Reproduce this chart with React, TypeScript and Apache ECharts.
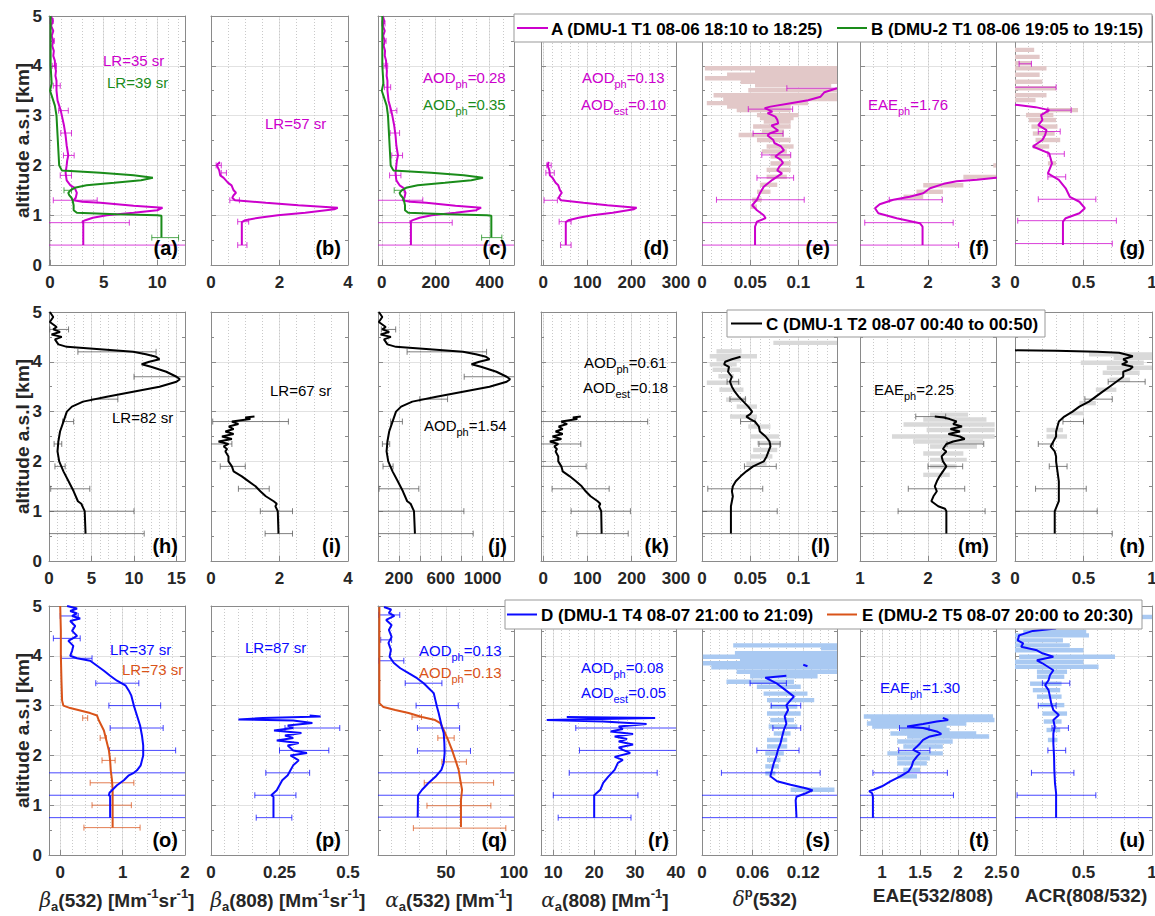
import React, { useEffect, useRef } from 'react';
import * as echarts from 'echarts';

const MAG = '#cc00cc';
const GRN = '#1a8c1a';
const BLK = '#000000';
const BLU = '#0a0aff';
const ORG = '#d95319';
const PINK = '#e2c8c8';
const GRAY = '#d9d9d9';
const LBLU = '#a9c9f2';
const FONT = '"Liberation Sans", Arial, Helvetica, sans-serif';
const TXT = '#262626';
const FRAME = '#8a8a8a';

// ---------- Row 1: A (magenta) / B (green) ----------
const aA = [[0.1,5.0],[0.25,4.9],[0.1,4.8],[0.3,4.7],[0.15,4.6],[0.3,4.5],[0.2,4.4],[0.35,4.3],[0.3,4.2],[0.45,4.1],[0.45,4.0],[0.55,3.9],[0.5,3.8],[0.6,3.7],[0.6,3.5],[0.7,3.3],[1.0,3.1],[1.1,3.0],[1.3,2.8],[1.45,2.6],[1.55,2.4],[1.7,2.2],[1.6,2.1],[1.55,2.0],[1.45,1.85],[1.55,1.7],[1.9,1.6],[2.3,1.55],[2.5,1.45],[2.4,1.35],[2.2,1.3],[3.0,1.27],[4.7,1.25],[7.8,1.19],[10.5,1.15],[10.0,1.1],[7.8,1.05],[5.3,1.0],[4.0,0.95],[3.3,0.9],[3.0,0.87],[3.1,0.85],[3.1,0.4]];
const aB = [[0.05,5.0],[0.05,4.5],[0.05,4.0],[0.15,3.65],[0.0,3.5],[0.15,3.4],[0.45,3.2],[0.6,3.0],[0.7,2.6],[0.8,2.2],[0.85,2.0],[1.1,1.9],[4.7,1.85],[7.8,1.8],[9.6,1.75],[8.5,1.7],[6.0,1.65],[3.4,1.6],[2.3,1.55],[1.9,1.5],[1.7,1.45],[1.8,1.4],[2.0,1.35],[2.1,1.3],[2.2,1.2],[2.2,1.1],[2.5,1.05],[6.2,1.02],[10.0,1.0],[10.4,0.99],[10.4,0.55]];
const aAerr = [[0.0,0.3,4.9],[0.05,0.4,4.5],[0.2,0.6,4.0],[0.3,0.95,3.6],[0.8,1.7,3.1],[1.0,2.0,2.65],[1.25,2.25,2.2],[0.95,2.0,1.8],[0.3,4.4,1.3],[-1,7.4,0.85],[-1,14,0.4]];
const aBerr = [[1.3,2.0,1.5],[9.5,12.0,0.55]];

const bA = [[0.22,2.07],[0.25,2.05],[0.2,2.03],[0.17,2.0],[0.24,1.9],[0.27,1.8],[0.37,1.75],[0.5,1.65],[0.6,1.6],[0.66,1.5],[0.73,1.45],[0.66,1.4],[0.62,1.35],[0.7,1.3],[1.6,1.25],[2.55,1.2],[3.7,1.15],[3.6,1.12],[2.75,1.05],[1.95,1.0],[1.4,0.95],[1.0,0.9],[0.9,0.86],[0.9,0.4]];
const bAerr = [[0.15,0.3,2.0],[0.3,0.45,1.85],[0.55,0.83,1.3],[0.78,1.1,0.87],[0.78,1.05,0.4]];

const cA = [[4,5.0],[9,4.9],[4,4.8],[11,4.7],[5,4.6],[11,4.5],[7,4.4],[12,4.3],[11,4.2],[16,4.1],[16,4.0],[19,3.9],[18,3.8],[21,3.7],[21,3.5],[25,3.3],[35,3.1],[39,3.0],[46,2.8],[51,2.6],[54,2.4],[60,2.2],[56,2.1],[54,2.0],[51,1.85],[54,1.7],[66,1.6],[80,1.55],[88,1.45],[84,1.35],[77,1.3],[105,1.27],[165,1.25],[273,1.19],[368,1.15],[350,1.1],[273,1.05],[185,1.0],[140,0.95],[115,0.9],[105,0.87],[108,0.85],[108,0.4]];
const cB = [[2,5.0],[2,4.5],[2,4.0],[6,3.65],[0,3.5],[6,3.4],[18,3.2],[23,3.0],[27,2.6],[31,2.2],[33,2.0],[43,1.9],[183,1.85],[304,1.8],[375,1.75],[332,1.7],[234,1.65],[133,1.6],[90,1.55],[74,1.5],[66,1.45],[70,1.4],[78,1.35],[82,1.3],[86,1.2],[86,1.1],[98,1.05],[242,1.02],[390,1.0],[406,0.99],[406,0.55]];
const cAerr = [[0,12,4.85],[2,16,4.5],[8,22,4.0],[10,33,3.57],[31,56,3.1],[31,66,2.65],[37,77,2.2],[29,71,1.8],[-20,152,1.3],[-20,261,0.85],[-20,600,0.4]];
const cBerr = [[46,83,1.5],[370,445,0.55]];

const dA = [[12.5,2.07],[10,2.0],[14,1.9],[15,1.8],[21,1.75],[28,1.65],[34,1.6],[38,1.5],[42,1.45],[38,1.4],[35,1.35],[40,1.3],[91,1.25],[145,1.2],[211,1.15],[205,1.12],[157,1.05],[111,1.0],[80,0.95],[57,0.9],[51,0.86],[51,0.4]];
const dAerr = [[8,18,2.0],[6,25,1.85],[2,32,1.3],[36,63,0.87],[39,63,0.4]];

const eA = [[0.14,3.55],[0.127,3.47],[0.123,3.38],[0.11,3.31],[0.092,3.25],[0.071,3.18],[0.065,3.15],[0.073,3.08],[0.068,3.05],[0.076,2.98],[0.078,2.92],[0.079,2.84],[0.072,2.8],[0.076,2.74],[0.079,2.7],[0.07,2.64],[0.068,2.6],[0.074,2.51],[0.075,2.45],[0.082,2.38],[0.085,2.3],[0.08,2.24],[0.076,2.18],[0.082,2.11],[0.084,2.05],[0.08,1.97],[0.078,1.9],[0.083,1.84],[0.073,1.71],[0.064,1.57],[0.06,1.44],[0.057,1.31],[0.052,1.2],[0.057,1.1],[0.064,1.0],[0.066,0.94],[0.057,0.87],[0.055,0.77],[0.055,0.4]];
const eShade = [[0.003,0.141,3.95],[0.055,0.141,3.88],[0.026,0.141,3.82],[0.003,0.141,3.75],[0.04,0.141,3.68],[0.055,0.134,3.61],[0.048,0.141,3.51],[0.012,0.141,3.41],[0.022,0.141,3.33],[0.005,0.11,3.25],[0.026,0.092,3.18],[0.036,0.092,3.11],[0.057,0.1,3.01],[0.06,0.095,2.95],[0.064,0.092,2.88],[0.053,0.092,2.78],[0.062,0.085,2.68],[0.038,0.085,2.61],[0.057,0.092,2.51],[0.067,0.095,2.38],[0.062,0.088,2.28],[0.071,0.092,2.18],[0.071,0.092,2.04],[0.067,0.092,1.91],[0.067,0.088,1.77],[0.06,0.078,1.61],[0.057,0.071,1.47],[0.052,0.062,1.31],[0.05,0.057,1.17]];
const eAerr = [[0.088,0.15,3.55],[0.048,0.094,3.13],[0.053,0.084,2.64],[0.062,0.092,2.21],[0.057,0.095,1.75],[0.015,0.106,1.31],[-0.01,0.2,0.85],[-0.01,0.2,0.4]];

const fA = [[3.1,1.76],[3.0,1.75],[2.72,1.71],[2.42,1.68],[2.23,1.63],[2.03,1.54],[1.93,1.44],[1.73,1.37],[1.49,1.31],[1.29,1.22],[1.22,1.14],[1.27,1.04],[1.54,0.94],[1.88,0.84],[1.92,0.77],[1.92,0.4]];
const fShade = [[2.96,3.0,2.0],[2.52,3.0,1.77],[1.93,2.52,1.6],[1.83,2.22,1.47],[1.64,1.93,1.37]];
const fAerr = [[1.43,2.21,1.31],[1.07,2.37,0.85],[0.9,2.45,0.4]];

const gA = [[0,3.22],[0.15,3.17],[0.25,3.11],[0.19,3.01],[0.2,2.91],[0.17,2.81],[0.23,2.71],[0.22,2.61],[0.2,2.51],[0.13,2.38],[0.25,2.24],[0.27,2.04],[0.24,1.84],[0.32,1.71],[0.37,1.54],[0.4,1.37],[0.47,1.27],[0.51,1.14],[0.47,1.04],[0.37,0.94],[0.35,0.87],[0.35,0.4]];
const gShade = [[0,0.14,4.32],[0,0.18,4.18],[0,0.12,4.05],[0,0.23,3.95],[0,0.18,3.82],[0,0.2,3.68],[0,0.3,3.55],[0,0.23,3.41],[0,0.15,3.31],[0.23,0.46,3.11],[0.08,0.28,3.01],[0.1,0.3,2.91],[0.12,0.31,2.78],[0.13,0.29,2.64],[0.15,0.33,2.51],[0.13,0.25,2.38],[0.24,0.3,2.04]];
const gAerr = [[0.03,0.12,4.04],[-0.01,0.3,3.57],[0.24,0.41,3.11],[0.17,0.33,2.68],[0.24,0.36,2.23],[0.24,0.37,1.77],[0.17,0.59,1.32],[0.02,0.74,0.89],[-0.01,0.71,0.43]];

// ---------- Row 2: C (black) ----------
const hC = [[0.1,5.0],[0.5,4.9],[0.1,4.8],[0.9,4.7],[0.5,4.65],[1.3,4.6],[0.3,4.55],[1.5,4.5],[0.7,4.45],[0.9,4.4],[1.1,4.35],[2.1,4.3],[6,4.25],[9.9,4.2],[11.4,4.15],[12.6,4.1],[13,4.05],[11.8,4.0],[10.9,3.95],[12,3.9],[13.8,3.8],[15,3.7],[15.4,3.65],[15,3.6],[13,3.5],[9.9,3.4],[6.8,3.3],[4.0,3.2],[2.7,3.1],[2.1,3.0],[1.7,2.8],[1.3,2.6],[1.1,2.4],[1.0,2.2],[1.2,2.0],[1.7,1.8],[2.3,1.6],[2.9,1.4],[3.4,1.2],[3.8,1.15],[4.2,1.0],[4.3,0.55]];
const hErr = [[0.1,2.3,4.65],[3.4,12.6,4.2],[10,17,3.7],[5,8.1,3.25],[1.6,2.9,2.8],[0.6,1.5,2.35],[0.7,1.9,1.9],[0.2,4.8,1.45],[-0.5,10,1.0],[-0.5,11.2,0.55]];

const iC = [[1.27,2.9],[1.0,2.88],[1.15,2.85],[0.61,2.8],[0.8,2.75],[0.52,2.7],[0.66,2.65],[0.42,2.6],[0.66,2.55],[0.32,2.5],[0.61,2.45],[0.22,2.4],[0.51,2.35],[0.37,2.3],[0.47,2.25],[0.42,2.2],[0.51,2.1],[0.51,2.0],[0.61,1.9],[0.66,1.8],[0.9,1.7],[1.1,1.6],[1.3,1.5],[1.44,1.4],[1.6,1.3],[1.83,1.2],[1.92,1.15],[1.88,1.1],[1.95,1.0],[1.97,0.55]];
const iErr = [[0.05,2.26,2.8],[-0.1,0.61,2.35],[0.27,1.0,1.9],[0.8,1.7,1.45],[1.44,2.38,1.0],[1.58,2.38,0.55]];

const jC = [[8,5.0],[41,4.9],[8,4.8],[74,4.7],[41,4.65],[107,4.6],[25,4.55],[123,4.5],[57,4.45],[74,4.4],[90,4.35],[172,4.3],[492,4.25],[812,4.2],[935,4.15],[1033,4.1],[1066,4.05],[968,4.0],[894,3.95],[984,3.9],[1132,3.8],[1230,3.7],[1263,3.65],[1230,3.6],[1066,3.5],[812,3.4],[558,3.3],[328,3.2],[221,3.1],[172,3.0],[139,2.8],[107,2.6],[90,2.4],[82,2.2],[98,2.0],[139,1.8],[189,1.6],[238,1.4],[279,1.2],[312,1.15],[344,1.0],[353,0.55]];
const jErr = [[32,169,4.65],[278,1038,4.2],[824,1400,3.7],[400,665,3.25],[121,233,2.8],[42,112,2.35],[48,144,1.9],[10,390,1.45],[-10,821,1.0],[-10,910,0.55]];

const kC = [[85,2.9],[67,2.88],[77,2.85],[41,2.8],[54,2.75],[35,2.7],[44,2.65],[28,2.6],[44,2.55],[21,2.5],[41,2.45],[15,2.4],[34,2.35],[25,2.3],[31,2.25],[28,2.2],[34,2.1],[34,2.0],[41,1.9],[44,1.8],[60,1.7],[74,1.6],[87,1.5],[96,1.4],[107,1.3],[123,1.2],[129,1.15],[126,1.1],[131,1.0],[132,0.55]];
const kErr = [[-10,236,2.8],[-10,85,2.35],[-10,97,1.9],[20,149,1.45],[63,197,1.0],[76,192,0.55]];

const lC = [[0.04,4.1],[0.031,4.05],[0.024,4.0],[0.023,3.95],[0.028,3.9],[0.027,3.8],[0.031,3.7],[0.029,3.6],[0.031,3.5],[0.034,3.4],[0.038,3.3],[0.043,3.2],[0.048,3.1],[0.052,3.0],[0.05,2.95],[0.046,2.9],[0.05,2.85],[0.055,2.8],[0.059,2.7],[0.06,2.6],[0.066,2.5],[0.07,2.4],[0.071,2.3],[0.069,2.2],[0.067,2.1],[0.064,2.0],[0.053,1.9],[0.046,1.8],[0.04,1.7],[0.035,1.6],[0.032,1.5],[0.031,1.4],[0.032,1.3],[0.031,1.2],[0.03,1.1],[0.03,1.0],[0.03,0.55]];
const lShade = [[0.074,0.141,4.38],[0.015,0.041,4.21],[0.008,0.057,4.11],[0.015,0.04,4.05],[0.008,0.036,3.95],[0.011,0.04,3.84],[0.017,0.033,3.71],[0.005,0.04,3.58],[0.018,0.043,3.44],[0.025,0.046,3.24],[0.036,0.057,3.1],[0.029,0.057,2.9],[0.048,0.071,2.7],[0.05,0.08,2.5],[0.057,0.082,2.37],[0.053,0.078,2.23],[0.05,0.073,2.1],[0.046,0.067,1.96]];
const lErr = [[0.026,0.038,3.6],[0.029,0.045,3.25],[0.04,0.055,2.8],[0.059,0.081,2.35],[0.044,0.077,1.9],[0.006,0.063,1.45],[-0.01,0.078,1.0],[-0.01,0.2,0.55]];

const mC = [[2.1,2.9],[2.23,2.88],[2.32,2.85],[2.42,2.8],[2.37,2.75],[2.5,2.7],[2.33,2.65],[2.47,2.6],[2.3,2.55],[2.47,2.5],[2.54,2.45],[2.37,2.4],[2.27,2.35],[2.22,2.25],[2.27,2.2],[2.2,2.1],[2.22,2.0],[2.27,1.9],[2.22,1.8],[2.17,1.7],[2.13,1.6],[2.1,1.5],[2.13,1.4],[2.08,1.3],[2.05,1.2],[2.15,1.1],[2.25,1.05],[2.27,1.0],[2.27,0.55]];
const mShade = [[2.03,2.59,2.94],[1.93,2.86,2.84],[1.64,2.98,2.74],[1.98,2.98,2.63],[1.47,2.98,2.5],[1.78,2.81,2.4],[2.03,2.72,2.3],[1.93,2.52,2.16],[2.03,2.57,2.03],[2.03,2.42,1.9],[1.93,2.32,1.73]];
const mErr = [[1.82,2.26,2.9],[2.28,2.82,2.35],[2.0,2.51,1.9],[1.71,2.54,1.45],[1.56,2.84,1.0],[0.9,3.1,0.55]];

const nC = [[0,4.23],[0.3,4.22],[0.6,4.2],[0.76,4.18],[0.86,4.11],[0.79,4.05],[0.82,4.0],[0.78,3.95],[0.86,3.9],[0.84,3.85],[0.79,3.8],[0.79,3.7],[0.74,3.6],[0.69,3.5],[0.64,3.4],[0.59,3.3],[0.54,3.2],[0.47,3.1],[0.42,3.0],[0.36,2.9],[0.32,2.8],[0.31,2.7],[0.3,2.6],[0.3,2.5],[0.28,2.4],[0.26,2.3],[0.29,2.2],[0.3,2.1],[0.3,2.0],[0.31,1.8],[0.32,1.6],[0.32,1.4],[0.32,1.2],[0.29,1.0],[0.29,0.55]];
const nShade = [[0.54,1.0,4.15],[0.72,1.0,4.08],[0.48,0.94,3.98],[0.67,1.0,3.88],[0.64,0.91,3.78],[0.69,0.84,3.64],[0.59,0.74,3.44],[0.47,0.59,3.17],[0.4,0.5,2.97],[0.23,0.35,2.63],[0.23,0.38,2.5]];
const nErr = [[0.68,0.95,3.6],[0.51,0.71,3.25],[0.35,0.5,2.8],[0.17,0.28,2.35],[0.25,0.38,1.9],[0.15,0.52,1.45],[-0.01,0.6,1.0],[-0.01,0.71,0.55]];

// ---------- Row 3: D (blue) / E (orange) ----------
const oD = [[0.11,5.0],[0.27,4.95],[0.16,4.9],[0.27,4.85],[0.19,4.8],[0.32,4.75],[0.16,4.7],[0.24,4.6],[0.19,4.5],[0.27,4.4],[0.13,4.3],[0.21,4.2],[0.19,4.1],[0.16,4.0],[0.27,3.95],[0.48,3.9],[0.59,3.8],[0.7,3.7],[0.8,3.6],[0.91,3.5],[1.05,3.4],[1.1,3.3],[1.14,3.2],[1.18,3.0],[1.23,2.8],[1.28,2.6],[1.31,2.4],[1.33,2.2],[1.33,2.0],[1.31,1.9],[1.29,1.8],[1.23,1.7],[1.18,1.65],[1.1,1.6],[1.02,1.5],[0.91,1.4],[0.83,1.3],[0.79,1.25],[0.78,1.2],[0.8,1.18],[0.8,0.75]];
const oE = [[0.0,5.0],[0.01,4.5],[0.01,4.0],[0.02,3.5],[0.03,3.1],[0.05,3.0],[0.16,2.95],[0.32,2.9],[0.48,2.85],[0.59,2.8],[0.62,2.7],[0.64,2.65],[0.7,2.5],[0.74,2.3],[0.78,2.1],[0.8,1.9],[0.81,1.7],[0.83,1.5],[0.84,1.3],[0.84,0.55]];
const oDerr = [[0,0.29,4.8],[-0.11,0.32,4.35],[0.02,0.51,3.95],[0.57,1.26,3.45],[0.78,1.61,3.0],[0.8,1.65,2.55],[0.79,1.85,2.1],[-0.3,2.2,1.65],[-0.3,2.2,1.2],[-0.3,2.2,0.75]];
const oEerr = [[0.36,0.44,2.75],[0.64,0.74,2.35],[0.67,0.88,1.9],[0.48,1.18,1.45],[0.51,1.14,1.0],[0.38,1.28,0.55]];

const pD = [[0.36,2.8],[0.4,2.78],[0.19,2.75],[0.1,2.72],[0.3,2.7],[0.37,2.65],[0.28,2.6],[0.3,2.55],[0.23,2.5],[0.33,2.45],[0.27,2.4],[0.3,2.35],[0.24,2.3],[0.32,2.25],[0.28,2.2],[0.3,2.1],[0.35,2.05],[0.29,2.0],[0.32,1.9],[0.3,1.8],[0.29,1.7],[0.28,1.6],[0.26,1.5],[0.25,1.4],[0.24,1.3],[0.22,1.2],[0.228,1.17],[0.228,0.75]];
const pErr = [[0.27,0.47,2.55],[0.25,0.43,2.1],[0.2,0.36,1.65],[0.16,0.31,1.2],[0.165,0.295,0.75]];

const qD = [[4.4,4.98],[9.6,4.93],[8,4.86],[12,4.8],[6,4.72],[10,4.62],[8,4.52],[10,4.38],[7.7,4.26],[9.5,4.12],[8.5,3.98],[11.5,3.86],[16.4,3.75],[22.5,3.65],[28.7,3.55],[33.6,3.45],[37.3,3.35],[41,3.25],[42.2,3.11],[43.4,2.97],[44.6,2.85],[45.8,2.71],[47,2.57],[48.3,2.45],[48.8,2.25],[49,2.05],[48.3,1.85],[46.6,1.71],[42.2,1.57],[37.3,1.45],[32.4,1.31],[29.4,1.2],[29.2,0.76]];
const qE = [[1,4.98],[1,4.0],[1,3.05],[4,2.97],[12.7,2.91],[22.5,2.85],[32.3,2.77],[42,2.71],[45.8,2.65],[48.3,2.51],[51.5,2.31],[54.4,2.11],[56.9,1.91],[59.3,1.71],[60.5,1.51],[61.8,1.31],[61,1.1],[61,0.56]];
const qDerr = [[0.7,16,4.82],[2,10,4.32],[0.7,19,3.9],[20,47,3.45],[28,59,3.0],[29,60,2.55],[29,68,2.09],[-5,110,1.65],[-5,110,1.2],[-5,110,0.76]];
const qEerr = [[25,32,2.77],[44,56,2.35],[47,65,1.87],[34,85,1.45],[36,83,0.99],[26,94,0.54]];

const rD = [[13.3,2.77],[34.9,2.75],[8.4,2.71],[22.2,2.68],[32.8,2.63],[26,2.58],[27,2.53],[24,2.48],[29.5,2.43],[25,2.38],[28,2.33],[26,2.28],[29.5,2.22],[26,2.16],[27,2.11],[28.8,2.05],[25,1.97],[27,1.91],[25.8,1.85],[25,1.71],[23.4,1.57],[22.2,1.45],[21.5,1.31],[20,1.2],[20,0.75]];
const rErr = [[15.5,45,2.55],[16.4,45,2.1],[13.9,35.4,1.65],[10,30.7,1.2],[11.2,29,0.75]];

const sD = [[0.1,3.6],[0.075,3.56],[0.081,3.51],[0.089,3.44],[0.099,3.31],[0.109,3.18],[0.105,3.11],[0.1,3.01],[0.102,2.91],[0.098,2.78],[0.1,2.64],[0.097,2.51],[0.095,2.38],[0.093,2.24],[0.09,2.11],[0.088,1.98],[0.085,1.84],[0.083,1.71],[0.081,1.58],[0.089,1.48],[0.105,1.41],[0.123,1.34],[0.131,1.3],[0.123,1.24],[0.112,1.17],[0.111,1.1],[0.112,0.75]];
const sD2 = [[0.12,3.82],[0.125,3.79]];
const sShade = [[0.037,0.16,4.21],[0.141,0.16,4.15],[0.039,0.16,4.05],[0.001,0.16,3.98],[0.045,0.16,3.91],[0.001,0.16,3.85],[0.011,0.16,3.77],[0.041,0.16,3.68],[0.057,0.137,3.59],[0.029,0.109,3.48],[0.065,0.117,3.38],[0.073,0.125,3.24],[0.077,0.133,3.11],[0.081,0.113,2.98],[0.077,0.117,2.84],[0.081,0.109,2.71],[0.079,0.113,2.58],[0.085,0.105,2.44],[0.077,0.101,2.31],[0.077,0.101,2.18],[0.075,0.097,2.04],[0.077,0.093,1.91],[0.075,0.091,1.78],[0.075,0.087,1.64],[0.105,0.157,1.31]];
const sErr = [[0.057,0.1,3.45],[0.082,0.117,3.0],[0.084,0.117,2.55],[0.065,0.115,2.1],[0.023,0.14,1.65],[-0.01,0.2,1.2],[-0.01,0.2,0.75]];

const tD = [[1.8,2.75],[1.87,2.71],[1.72,2.68],[1.54,2.63],[1.33,2.58],[1.54,2.55],[1.72,2.48],[1.78,2.43],[1.63,2.38],[1.54,2.31],[1.5,2.24],[1.46,2.18],[1.41,2.11],[1.5,2.04],[1.46,1.98],[1.41,1.88],[1.39,1.78],[1.35,1.68],[1.24,1.58],[1.11,1.48],[1.0,1.38],[0.89,1.31],[0.83,1.28],[0.87,1.24],[0.88,1.17],[0.88,0.75]];
const tShade = [[0.76,2.46,2.78],[0.85,2.48,2.71],[0.8,2.11,2.64],[0.87,1.85,2.58],[1.24,1.89,2.51],[1.11,2.24,2.44],[1.33,2.41,2.38],[1.2,1.93,2.28],[1.28,1.8,2.18],[1.07,1.8,2.04],[1.2,1.63,1.94],[1.2,1.59,1.84],[1.28,1.5,1.71],[1.2,1.46,1.58]];
const tErr = [[1.23,1.62,2.55],[1.22,1.63,2.1],[0.88,1.86,1.65],[0.6,1.94,1.2],[0.6,2.6,0.75]];

const uD = [[0.3,4.55],[0.13,4.5],[0.03,4.41],[0.02,4.31],[0.06,4.25],[0.045,4.18],[0.16,4.11],[0.2,4.05],[0.28,3.98],[0.16,3.91],[0.2,3.85],[0.24,3.78],[0.28,3.71],[0.255,3.61],[0.245,3.51],[0.22,3.41],[0.245,3.31],[0.255,3.18],[0.265,3.04],[0.28,2.91],[0.32,2.81],[0.28,2.71],[0.29,2.58],[0.28,2.44],[0.28,2.24],[0.285,1.98],[0.287,1.71],[0.292,1.44],[0.3,1.24],[0.3,0.75]];
const uShade = [[0.9,1.0,4.78],[0.06,0.52,4.48],[0,0.54,4.41],[0,0.35,4.31],[0,0.4,4.21],[0,0.5,4.11],[0.03,0.73,3.98],[0,0.5,3.88],[0,0.61,3.78],[0.16,0.38,3.68],[0.16,0.36,3.58],[0.11,0.34,3.44],[0.13,0.33,3.31],[0.16,0.34,3.18],[0.18,0.36,3.01],[0.2,0.38,2.84],[0.21,0.34,2.68],[0.23,0.33,2.51],[0.24,0.31,2.31]];
const uErr = [[0.2,0.4,3.45],[0.17,0.3,3.0],[0.27,0.39,2.55],[0.24,0.37,2.1],[0.12,0.43,1.65],[0.015,0.59,1.2],[-0.01,1.1,0.75]];

const NAME_A = 'A (DMU-1 T1 08-06 18:10 to 18:25)';
const NAME_B = 'B (DMU-2 T1 08-06 19:05 to 19:15)';
const NAME_C = 'C (DMU-1 T2 08-07 00:40 to 00:50)';
const NAME_D = 'D (DMU-1 T4 08-07 21:00 to 21:09)';
const NAME_E = 'E (DMU-2 T5 08-07 20:00 to 20:30)';

// ---------- layout ----------
const ROW_TOP = [16, 312, 606];
const ROW_H = 249;
const COL_LEFT = [49, 211, 378, 541, 702, 860, 1015];
const COL_W = [136, 137, 136, 135, 135, 136, 137];
const LETTER_Y = [248, 546, 840];

type Pn = { L: string; r: number; c: number; x: number[]; t: number[]; lb?: number[]; m: number;
  lines: any[]; errs: any[]; shades: any[] };

const PANELS: Pn[] = [
  { L: '(a)', r: 0, c: 0, x: [-0.1, 12.6], t: [0, 5, 10], m: 1, lines: [[aA, MAG, NAME_A], [aB, GRN, NAME_B]], errs: [[aAerr, MAG], [aBerr, GRN]], shades: [] },
  { L: '(b)', r: 0, c: 1, x: [0, 4], t: [0, 2, 4], m: 0.5, lines: [[bA, MAG, NAME_A]], errs: [[bAerr, MAG]], shades: [] },
  { L: '(c)', r: 0, c: 2, x: [-14, 490], t: [0, 200, 400], m: 50, lines: [[cA, MAG, NAME_A], [cB, GRN, NAME_B]], errs: [[cAerr, MAG], [cBerr, GRN]], shades: [] },
  { L: '(d)', r: 0, c: 3, x: [-5, 300], t: [0, 100, 200, 300], m: 20, lines: [[dA, MAG, NAME_A]], errs: [[dAerr, MAG]], shades: [] },
  { L: '(e)', r: 0, c: 4, x: [0, 0.14], t: [0, 0.05, 0.1], m: 0.01, lines: [[eA, MAG, NAME_A]], errs: [[eAerr, MAG]], shades: [[eShade, PINK]] },
  { L: '(f)', r: 0, c: 5, x: [1, 3], t: [1, 2, 3], m: 0.2, lines: [[fA, MAG, NAME_A]], errs: [[fAerr, MAG]], shades: [[fShade, PINK]] },
  { L: '(g)', r: 0, c: 6, x: [0, 1], t: [0, 0.5, 1], m: 0.1, lines: [[gA, MAG, NAME_A]], errs: [[gAerr, MAG]], shades: [[gShade, PINK]] },
  { L: '(h)', r: 1, c: 0, x: [0, 16], t: [0, 5, 10, 15], m: 1, lines: [[hC, BLK, NAME_C]], errs: [[hErr, '#555']], shades: [] },
  { L: '(i)', r: 1, c: 1, x: [0, 4], t: [0, 2, 4], m: 0.5, lines: [[iC, BLK, NAME_C]], errs: [[iErr, '#555']], shades: [] },
  { L: '(j)', r: 1, c: 2, x: [0, 1300], t: [200, 400, 600, 800, 1000, 1200], lb: [200, 600, 1000], m: 100, lines: [[jC, BLK, NAME_C]], errs: [[jErr, '#555']], shades: [] },
  { L: '(k)', r: 1, c: 3, x: [-5, 300], t: [0, 100, 200, 300], m: 20, lines: [[kC, BLK, NAME_C]], errs: [[kErr, '#555']], shades: [] },
  { L: '(l)', r: 1, c: 4, x: [0, 0.14], t: [0, 0.05, 0.1], m: 0.01, lines: [[lC, BLK, NAME_C]], errs: [[lErr, '#555']], shades: [[lShade, GRAY]] },
  { L: '(m)', r: 1, c: 5, x: [1, 3], t: [1, 2, 3], m: 0.2, lines: [[mC, BLK, NAME_C]], errs: [[mErr, '#555']], shades: [[mShade, GRAY]] },
  { L: '(n)', r: 1, c: 6, x: [0, 1], t: [0, 0.5, 1], m: 0.1, lines: [[nC, BLK, NAME_C]], errs: [[nErr, '#555']], shades: [[nShade, GRAY]] },
  { L: '(o)', r: 2, c: 0, x: [-0.18, 2], t: [0, 1, 2], m: 0.2, lines: [[oE, ORG, NAME_E], [oD, BLU, NAME_D]], errs: [[oEerr, ORG], [oDerr, BLU]], shades: [] },
  { L: '(p)', r: 2, c: 1, x: [0, 0.5], t: [0, 0.25, 0.5], m: 0.05, lines: [[pD, BLU, NAME_D]], errs: [[pErr, BLU]], shades: [] },
  { L: '(q)', r: 2, c: 2, x: [0, 100], t: [0, 50, 100], lb: [50, 100], m: 10, lines: [[qE, ORG, NAME_E], [qD, BLU, NAME_D]], errs: [[qEerr, ORG], [qDerr, BLU]], shades: [] },
  { L: '(r)', r: 2, c: 3, x: [7, 40], t: [10, 20, 30, 40], m: 2, lines: [[rD, BLU, NAME_D]], errs: [[rErr, BLU]], shades: [] },
  { L: '(s)', r: 2, c: 4, x: [0, 0.16], t: [0, 0.06, 0.12], m: 0.01, lines: [[sD, BLU, NAME_D], [sD2, BLU, NAME_D]], errs: [[sErr, BLU]], shades: [[sShade, LBLU]] },
  { L: '(t)', r: 2, c: 5, x: [0.71, 2.5], t: [1, 1.5, 2, 2.5], m: 0.1, lines: [[tD, BLU, NAME_D]], errs: [[tErr, BLU]], shades: [[tShade, LBLU]] },
  { L: '(u)', r: 2, c: 6, x: [0, 1], t: [0, 0.5, 1], m: 0.1, lines: [[uD, BLU, NAME_D]], errs: [[uErr, BLU]], shades: [[uShade, LBLU]] },
];

const ANNOS: any[] = [
  [103, 60, '{n|LR=35 sr}', MAG], [107, 82, '{n|LR=39 sr}', GRN], [265, 123, '{n|LR=57 sr}', MAG],
  [423, 77, '{n|AOD}{s|ph}{n|=0.28}', MAG], [423, 104, '{n|AOD}{s|ph}{n|=0.35}', GRN],
  [582, 77, '{n|AOD}{s|ph}{n|=0.13}', MAG], [581, 104, '{n|AOD}{s|est}{n|=0.10}', MAG],
  [868, 104, '{n|EAE}{s|ph}{n|=1.76}', MAG],
  [112, 417, '{n|LR=82 sr}', BLK], [270, 390, '{n|LR=67 sr}', BLK], [424, 425, '{n|AOD}{s|ph}{n|=1.54}', BLK],
  [584, 362, '{n|AOD}{s|ph}{n|=0.61}', BLK], [583, 387, '{n|AOD}{s|est}{n|=0.18}', BLK],
  [874, 389, '{n|EAE}{s|ph}{n|=2.25}', BLK],
  [110, 649, '{n|LR=37 sr}', BLU], [122, 669, '{n|LR=73 sr}', ORG], [245, 647, '{n|LR=87 sr}', BLU],
  [419, 650, '{n|AOD}{s|ph}{n|=0.13}', BLU], [419, 672, '{n|AOD}{s|ph}{n|=0.13}', ORG],
  [581, 667, '{n|AOD}{s|ph}{n|=0.08}', BLU], [581, 692, '{n|AOD}{s|est}{n|=0.05}', BLU],
  [880, 687, '{n|EAE}{s|ph}{n|=1.30}', BLU],
];

const XNAMES: any[] = [
  [117, 900, '{g|β}{s|a}{n|(532) [Mm}{p|-1}{n|sr}{p|-1}{n|]}'],
  [288, 900, '{g|β}{s|a}{n|(808) [Mm}{p|-1}{n|sr}{p|-1}{n|]}'],
  [449, 900, '{g|α}{s|a}{n|(532) [Mm}{p|-1}{n|]}'],
  [605, 900, '{g|α}{s|a}{n|(808) [Mm}{p|-1}{n|]}'],
  [765, 899, '{g|δ}{p|p}{n|(532)}'],
  [933, 895, '{n|EAE(532/808)}'],
  [1086, 895, '{n|ACR(808/532)}'],
];

const LEGENDS: any[] = [
  { box: [514, 14, 638, 28], items: [[517, 548, MAG, 551, NAME_A], [837, 867, GRN, 871, NAME_B]] },
  { box: [727, 310, 318, 27], items: [[731, 762, BLK, 766, NAME_C]] },
  { box: [505, 600, 637, 29], items: [[507, 537, BLU, 541, NAME_D], [827, 857, ORG, 862, NAME_E]] },
];

function stepsIn(a: number, b: number, s: number) {
  const out: number[] = [];
  const k0 = Math.ceil(a / s - 1e-9);
  for (let k = k0; k * s <= b + 1e-9; k++) out.push(+(k * s).toFixed(6));
  return out;
}

const fmt = (v: number) => String(+Number(v).toFixed(6));

function errRender(color: string) {
  return (params: any, api: any) => {
    const cs = params.coordSys;
    const X0 = cs.x, X1 = cs.x + cs.width;
    const y = api.value(2);
    const a = api.coord([api.value(0), y]);
    const b = api.coord([api.value(1), y]);
    const x0 = Math.max(X0, Math.min(X1, a[0]));
    const x1 = Math.max(X0, Math.min(X1, b[0]));
    const yy = a[1];
    const st = { stroke: color, lineWidth: 1, opacity: 0.75 };
    const ch: any[] = [{ type: 'line', shape: { x1: x0, y1: yy, x2: x1, y2: yy }, style: st }];
    if (a[0] >= X0 && a[0] <= X1) ch.push({ type: 'line', shape: { x1: a[0], y1: yy - 3, x2: a[0], y2: yy + 3 }, style: st });
    if (b[0] >= X0 && b[0] <= X1) ch.push({ type: 'line', shape: { x1: b[0], y1: yy - 3, x2: b[0], y2: yy + 3 }, style: st });
    return { type: 'group', children: ch };
  };
}

function shadeRender(color: string) {
  return (params: any, api: any) => {
    const cs = params.coordSys;
    const X0 = cs.x, X1 = cs.x + cs.width;
    const y = api.value(2);
    const a = api.coord([api.value(0), y]);
    const b = api.coord([api.value(1), y]);
    const x0 = Math.max(X0, Math.min(X1, a[0]));
    const x1 = Math.max(X0, Math.min(X1, b[0]));
    return { type: 'rect', shape: { x: x0, y: a[1] - 2.2, width: Math.max(0, x1 - x0), height: 4.4 }, style: { fill: color } };
  };
}

function buildOption() {
  const grid: any[] = [], xAxis: any[] = [], yAxis: any[] = [], series: any[] = [], graphic: any[] = [];
  const tickLabel = { fontSize: 17, fontWeight: 'bold', fontFamily: FONT, color: TXT };
  PANELS.forEach((p, i) => {
    const left = COL_LEFT[p.c], top = ROW_TOP[p.r], width = COL_W[p.c];
    grid.push({ left, top, width, height: ROW_H, containLabel: false, outerBoundsMode: 'none' });
    const minorVals = stepsIn(p.x[0], p.x[1], p.m);
    xAxis.push({
      type: 'value', gridIndex: i, position: 'bottom', min: p.x[0], max: p.x[1],
      axisLine: { show: true, onZero: false, lineStyle: { color: FRAME, width: 1 } },
      axisTick: { show: true, inside: true, length: 5, customValues: p.t, lineStyle: { color: FRAME } },
      axisLabel: { show: true, customValues: p.lb || p.t, margin: 9, hideOverlap: false, showMinLabel: true, showMaxLabel: true, formatter: fmt, ...tickLabel },
      splitLine: { show: true, lineStyle: { color: '#e2e2e2', width: 1 } },
    });
    xAxis.push({
      type: 'value', gridIndex: i, position: 'top', min: p.x[0], max: p.x[1],
      axisLine: { show: true, onZero: false, lineStyle: { color: FRAME, width: 1 } },
      axisTick: { show: false, customValues: minorVals },
      axisLabel: { show: false, customValues: minorVals },
      splitLine: { show: true, lineStyle: { color: '#c9c9c9', width: 1, type: [1, 2] } },
    });
    yAxis.push({
      type: 'value', gridIndex: i, position: 'left', min: 0, max: 5, interval: 1,
      axisLine: { show: true, onZero: false, lineStyle: { color: FRAME, width: 1 } },
      axisTick: { show: true, inside: true, length: 5, lineStyle: { color: FRAME } },
      minorTick: { show: true, splitNumber: 2, length: 3, lineStyle: { color: FRAME } },
      axisLabel: { show: p.c === 0, margin: 7, showMinLabel: true, showMaxLabel: true, formatter: fmt, ...tickLabel },
      splitLine: { show: true, lineStyle: { color: '#e2e2e2', width: 1 } },
    });
    yAxis.push({
      type: 'value', gridIndex: i, position: 'right', min: 0, max: 5, interval: 1,
      axisLine: { show: true, onZero: false, lineStyle: { color: FRAME, width: 1 } },
      axisTick: { show: true, inside: true, length: 5, lineStyle: { color: FRAME } },
      minorTick: { show: true, splitNumber: 2, length: 3, lineStyle: { color: FRAME } },
      axisLabel: { show: false }, splitLine: { show: false },
    });
    const xi = 2 * i, yi = 2 * i;
    p.shades.forEach(([d, col]: any) => series.push({
      type: 'custom', xAxisIndex: xi, yAxisIndex: yi, data: d, encode: { x: [0, 1], y: 2 },
      renderItem: shadeRender(col), z: 2, silent: true,
    }));
    p.errs.forEach(([d, col]: any) => series.push({
      type: 'custom', xAxisIndex: xi, yAxisIndex: yi, data: d, encode: { x: [0, 1], y: 2 },
      renderItem: errRender(col), z: 3, silent: true,
    }));
    p.lines.forEach(([d, col, name]: any) => series.push({
      type: 'line', name, xAxisIndex: xi, yAxisIndex: yi, data: d, showSymbol: false, symbol: 'none',
      lineStyle: { color: col, width: 2 }, itemStyle: { color: col }, clip: true, z: 4, silent: true,
    }));
    graphic.push({
      type: 'text', z: 50, silent: true,
      style: { text: p.L, x: left + width - 7, y: LETTER_Y[p.r], align: 'right', verticalAlign: 'middle',
        textAlign: 'right', textVerticalAlign: 'middle', fontSize: 20, fontWeight: 'bold', fontFamily: FONT, fill: '#000' },
    });
  });

  ANNOS.forEach(([x, y, text, color]) => graphic.push({
    type: 'text', z: 50, silent: true,
    style: {
      text, x, y, align: 'left', verticalAlign: 'middle', textAlign: 'left', textVerticalAlign: 'middle',
      rich: {
        n: { fontSize: 15, lineHeight: 24, fontFamily: FONT, fill: color },
        s: { fontSize: 11, fontFamily: FONT, fill: color, verticalAlign: 'bottom' },
      },
    },
  }));

  XNAMES.forEach(([x, y, text]) => graphic.push({
    type: 'text', z: 50, silent: true,
    style: {
      text, x, y, align: 'center', verticalAlign: 'middle', textAlign: 'center', textVerticalAlign: 'middle',
      rich: {
        n: { fontSize: 19, fontWeight: 'bold', lineHeight: 26, fontFamily: FONT, fill: TXT },
        g: { fontSize: 20, fontStyle: 'italic', lineHeight: 26, fontFamily: '"DejaVu Serif", serif', fill: TXT },
        s: { fontSize: 13, fontWeight: 'bold', fontFamily: FONT, fill: TXT, verticalAlign: 'bottom' },
        p: { fontSize: 13, fontWeight: 'bold', fontFamily: FONT, fill: TXT, verticalAlign: 'top' },
      },
    },
  }));

  ROW_TOP.forEach((top) => graphic.push({
    type: 'text', z: 50, silent: true, x: 22, y: top + ROW_H / 2, rotation: Math.PI / 2,
    style: { text: 'altitude a.s.l [km]', x: 0, y: 0, align: 'center', verticalAlign: 'middle', textAlign: 'center', textVerticalAlign: 'middle',
      fontSize: 19, fontWeight: 'bold', fontFamily: FONT, fill: TXT },
  }));

  LEGENDS.forEach((lg) => {
    const [bx, by, bw, bh] = lg.box;
    graphic.push({ type: 'rect', z: 60, silent: true, shape: { x: bx, y: by, width: bw, height: bh }, style: { fill: '#fff', stroke: '#999', lineWidth: 1 } });
    lg.items.forEach(([l0, l1, col, tx, label]: any) => {
      const cy = by + bh / 2;
      graphic.push({ type: 'line', z: 61, silent: true, shape: { x1: l0, y1: cy, x2: l1, y2: cy }, style: { stroke: col, lineWidth: 2 } });
      graphic.push({ type: 'text', z: 61, silent: true, style: { text: label, x: tx, y: cy + 1, align: 'left', verticalAlign: 'middle', textAlign: 'left', textVerticalAlign: 'middle', fontSize: 17, fontWeight: 'bold', fontFamily: FONT, fill: '#000' } });
    });
  });

  return { animation: false, backgroundColor: '#fff', grid, xAxis, yAxis, series, graphic };
}

export default function App() {
  const ref = useRef<HTMLDivElement>(null);
  useEffect(() => {
    if (!ref.current) return;
    const chart = echarts.init(ref.current, null, { renderer: 'svg' });
    chart.setOption(buildOption() as any);
    return () => chart.dispose();
  }, []);
  return <div ref={ref} style={{ position: 'absolute', left: 0, top: 0, width: 1155, height: 916, background: '#fff' }} />;
}
